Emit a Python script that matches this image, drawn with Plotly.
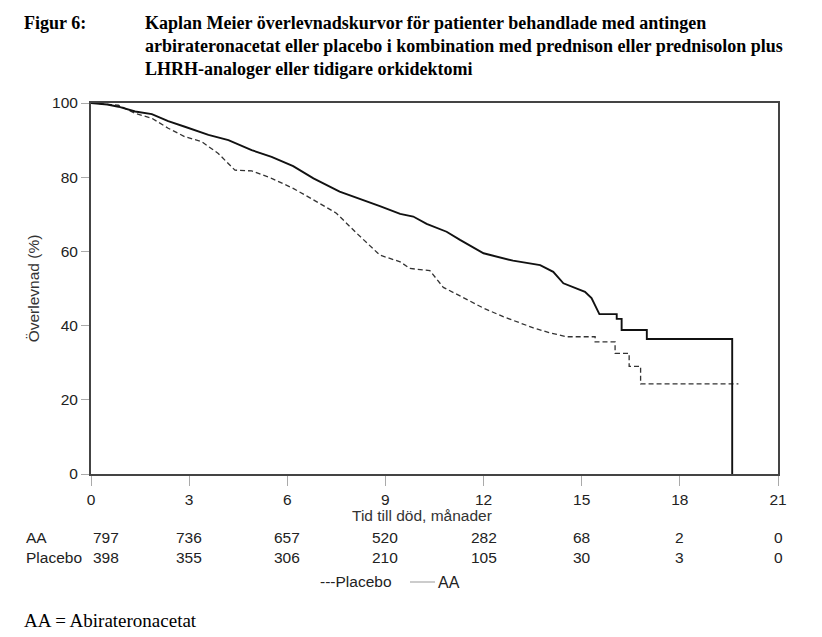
import plotly.graph_objects as go

# Kaplan-Meier curves, values (months, % survival)
months_aa = [0, 0.5, 0.84, 1.35, 1.86, 2.36, 2.87, 3.59, 4.2, 4.91, 5.52, 6.18,
             6.8, 7.6, 8.83, 9.45, 9.85, 10.26, 10.87, 11.28, 12.0, 12.9, 13.73,
             14.13, 14.44, 15.1, 15.3, 15.54, 16.07, 16.07, 16.22, 16.22, 16.99,
             16.99, 19.6, 19.6]
surv_aa = [100, 99.6, 99, 97.7, 97.0, 95.1, 93.6, 91.4, 90.0, 87.3, 85.5, 83.0,
           79.7, 76.1, 72.2, 70.1, 69.4, 67.4, 65.3, 63.1, 59.5, 57.5, 56.3,
           54.5, 51.4, 49.1, 47.4, 43.1, 43.1, 41.8, 41.8, 38.8, 38.8,
           36.4, 36.4, 0]

months_placebo = [0, 0.84, 1.35, 1.86, 2.36, 2.87, 3.38, 3.89, 4.4, 4.91, 5.52,
                  5.78, 6.18, 6.8, 7.5, 8.12, 8.83, 9.45, 9.75, 10.36, 10.77,
                  11.28, 12.0, 12.6, 13.52, 14.0, 14.54, 15.41, 15.41, 16.02,
                  16.02, 16.45, 16.45, 16.8, 16.8, 19.79]
surv_placebo = [100, 99.4, 97.2, 95.9, 93.2, 90.9, 89.6, 86.4, 81.9, 81.7, 79.7,
                78.6, 77.0, 73.9, 70.3, 64.9, 59.0, 57.2, 55.4, 54.8, 50.3,
                48.0, 44.7, 42.4, 39.4, 38.1, 37.0, 37.0, 35.6, 35.6,
                32.5, 32.5, 29.0, 29.0, 24.3, 24.3]

# number at risk
risk_times = [0, 3, 6, 9, 12, 15, 18, 21]
at_risk_aa = [797, 736, 657, 520, 282, 68, 2, 0]
at_risk_placebo = [398, 355, 306, 210, 105, 30, 3, 0]

title_lines = [
    "Kaplan Meier överlevnadskurvor för patienter behandlade med antingen",
    "arbirateronacetat eller placebo i kombination med prednison eller prednisolon plus",
    "LHRH-analoger eller tidigare orkidektomi",
]

SANS = "Arial, Liberation Sans, sans-serif"
SERIF = "Times New Roman, Liberation Serif, serif"
FS = 15.5  # sans text size

# the page has an 8px body margin, plot area sits at page pixels x 91..778, y 103..474
def py(pix):
    return (474 - pix) / 371.0


def px(pix):
    return (pix - 91) / 687.0


fig = go.Figure()

fig.add_trace(go.Scatter(
    x=months_placebo, y=surv_placebo, mode="lines", name="Placebo",
    line=dict(color="#333333", width=1.3, dash="5px,3px"),
))
fig.add_trace(go.Scatter(
    x=months_aa, y=surv_aa, mode="lines", name="AA",
    line=dict(color="#111111", width=1.9),
))

annotations = []

# title
annotations.append(dict(
    text="<b>Figur 6:</b>", x=px(22), y=py(23), xref="paper", yref="paper",
    xanchor="left", yanchor="middle", showarrow=False,
    font=dict(family=SERIF, size=18, color="black"),
))
for i, line in enumerate(title_lines):
    annotations.append(dict(
        text="<b>%s</b>" % line, x=px(143), y=py(23 + 23 * i),
        xref="paper", yref="paper", xanchor="left", yanchor="middle",
        showarrow=False, font=dict(family=SERIF, size=18, color="black"),
    ))

# x axis title
annotations.append(dict(
    text="Tid till död, månader", x=px(422), y=py(515), xref="paper", yref="paper",
    xanchor="center", yanchor="middle", showarrow=False,
    font=dict(family=SANS, size=FS, color="#333333"),
))

# number at risk table
for row_y, label, values in [(537, "AA", at_risk_aa), (557, "Placebo", at_risk_placebo)]:
    annotations.append(dict(
        text=label, x=px(24), y=py(row_y), xref="paper", yref="paper",
        xanchor="left", yanchor="middle", showarrow=False,
        font=dict(family=SANS, size=FS, color="#222222"),
    ))
    for t, v in zip(risk_times, values):
        annotations.append(dict(
            text=str(v), x=t, y=py(row_y), xref="x", yref="paper",
            xanchor="left" if t == 0 else "center", yanchor="middle",
            showarrow=False, font=dict(family=SANS, size=FS, color="#222222"),
        ))

# legend drawn as in the reference
annotations.append(dict(
    text="---Placebo", x=px(318), y=py(581), xref="paper", yref="paper",
    xanchor="left", yanchor="middle", showarrow=False,
    font=dict(family=SANS, size=FS, color="#222222"),
))
annotations.append(dict(
    text="AA", x=px(436), y=py(582), xref="paper", yref="paper",
    xanchor="left", yanchor="middle", showarrow=False,
    font=dict(family=SANS, size=16, color="#222222"),
))

# footnote
annotations.append(dict(
    text="AA = Abirateronacetat", x=px(22), y=py(620), xref="paper", yref="paper",
    xanchor="left", yanchor="middle", showarrow=False,
    font=dict(family=SERIF, size=19, color="black"),
))

fig.update_layout(
    width=814,
    height=629,
    margin=dict(l=83, r=44, t=95, b=163),
    plot_bgcolor="white",
    paper_bgcolor="white",
    showlegend=False,
    annotations=annotations,
    shapes=[dict(
        type="line", xref="paper", yref="paper",
        x0=px(410), x1=px(435), y0=py(582), y1=py(582),
        line=dict(color="#999999", width=1),
    )],
)

fig.update_xaxes(
    range=[0, 21], tickvals=risk_times, showgrid=False, zeroline=False,
    showline=True, linecolor="#444444", linewidth=2, mirror=True,
    ticks="outside", ticklen=10, tickcolor="#aaaaaa", tickwidth=1,
    tickfont=dict(family=SANS, size=FS, color="#222222"),
)
fig.update_yaxes(
    range=[0, 100], tickvals=[0, 20, 40, 60, 80, 100], showgrid=False,
    zeroline=False, showline=True, linecolor="#444444", linewidth=2, mirror=True,
    ticks="outside", ticklen=8, tickcolor="#aaaaaa", tickwidth=1,
    tickfont=dict(family=SANS, size=FS, color="#222222"),
    title=dict(text="Överlevnad (%)", standoff=9,
               font=dict(family=SANS, size=FS, color="#333333")),
)

fig.write_html("out.html")
